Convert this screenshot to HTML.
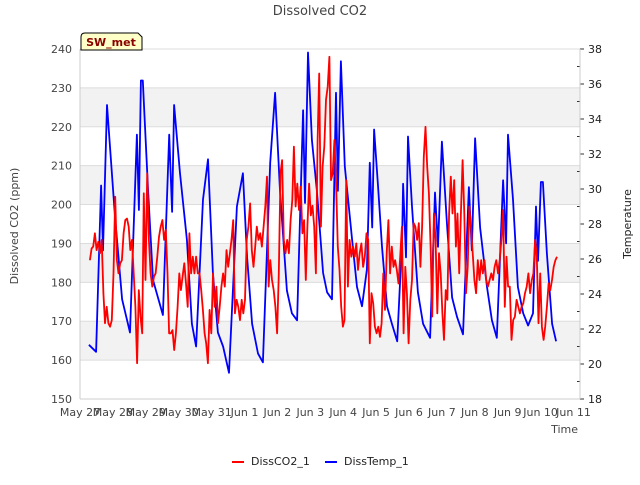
<!DOCTYPE html>
<html><head><meta charset="utf-8"><style>
body{margin:0;background:#fff;font-family:"Liberation Sans",sans-serif;}
svg text{font-family:"DejaVu Sans","Liberation Sans",sans-serif;}
</style></head><body>
<svg id="chart" width="640" height="480" xmlns="http://www.w3.org/2000/svg">
<g id="bands"></g><g id="grid"></g><g id="axes"></g><g id="series"></g>
<text x="320" y="15" text-anchor="middle" font-size="13" fill="#444">Dissolved CO2</text>
<text x="18" y="226" text-anchor="middle" font-size="11" fill="#444" transform="rotate(-90 18 226)">Dissolved CO2 (ppm)</text>
<text x="631" y="224" text-anchor="middle" font-size="11" fill="#222" transform="rotate(-90 631 224)">Temperature</text>
<text x="578" y="433" text-anchor="end" font-size="11" fill="#444">Time</text>
<g>
<path d="M81,50 L81,37 Q81,33 85,33 L138,33 L142,37 L142,50 Z" fill="#ffffc8" stroke="#000" stroke-width="1"/>
<text x="111" y="46" text-anchor="middle" font-size="11" font-weight="bold" fill="#8b0000">SW_met</text>
</g>
<g>
<g><line x1="232" y1="462" x2="244" y2="462" stroke="red" stroke-width="2"/><text x="251" y="465" font-size="11" fill="#222">DissCO2_1</text></g>
<g><line x1="325" y1="462" x2="337" y2="462" stroke="blue" stroke-width="2"/><text x="344" y="465" font-size="11" fill="#222">DissTemp_1</text></g>
</g>
</svg>
<script>
const xTickLabels=["May 27","May 28","May 29","May 30","May 31","Jun 1","Jun 2","Jun 3","Jun 4","Jun 5","Jun 6","Jun 7","Jun 8","Jun 9","Jun 10","Jun 11"];
const yTicks=[150,160,170,180,190,200,210,220,230,240];
const y2Ticks=[18,20,22,24,26,28,30,32,34,36,38];
const co2Start=0.30, co2End=14.50;
const co2Values=[185.7,188.7,189.2,192.6,188.3,190.4,187.5,190.9,177.2,169.5,173.7,169.5,168.6,170.3,182.3,202.0,185.7,182.3,184.9,185.7,192.6,196.0,196.4,194.3,188.3,190.9,182.3,173.7,159.2,178.0,171.2,166.9,202.9,180.6,208.0,190.9,182.3,178.9,181.5,182.3,186.6,191.7,194.3,196.0,190.9,193.5,182.3,166.9,166.9,167.7,162.6,166.9,173.7,182.3,178.0,181.5,184.9,179.7,173.7,192.6,182.3,186.6,182.3,186.6,182.3,182.3,178.0,172.9,166.9,164.3,159.2,172.9,166.9,182.3,173.7,178.9,169.5,173.7,178.9,182.3,178.9,188.3,184.0,187.5,190.9,196.0,172.0,175.5,173.7,170.3,175.5,172.0,175.5,190.9,194.3,200.3,188.3,184.0,189.2,194.3,190.9,192.6,189.2,194.3,199.5,207.2,178.9,185.7,180.6,178.0,173.7,166.9,182.3,208.0,211.4,190.9,187.5,190.9,187.5,196.0,201.2,214.9,199.5,205.4,198.6,204.6,192.6,196.0,180.6,194.3,205.4,197.2,199.7,194.3,182.3,
216.6,233.7,194.3,209.7,214.9,226.9,230.3,238.0,206.3,208.0,216.6,205.4,189.2,183.2,173.7,168.6,170.3,206.3,178.9,190.9,186.6,189.2,186.6,190.0,183.2,187.5,190.0,184.0,186.6,192.6,190.9,164.3,177.2,174.6,168.6,166.9,168.6,166.0,169.5,182.3,172.9,187.5,196.0,182.3,189.2,184.0,185.7,183.2,179.7,186.6,194.3,166.9,184.0,177.2,164.3,175.5,180.6,195.2,194.3,190.9,195.2,184.0,194.3,212.3,220.0,209.7,202.9,189.2,171.2,197.7,190.9,172.0,187.5,182.3,172.0,165.2,178.0,175.5,197.7,207.2,197.7,206.3,189.2,197.7,182.3,197.7,211.4,197.7,177.2,184.0,199.5,194.3,187.5,180.6,177.2,185.7,180.6,185.7,182.3,185.7,180.6,178.9,180.6,182.3,180.6,184.0,185.7,182.3,185.7,190.9,198.6,173.7,186.6,178.9,178.9,165.2,170.3,171.2,175.5,173.7,172.0,173.7,174.6,177.2,178.9,182.3,177.2,180.6,182.3,190.9,186.6,169.5,182.3,168.6,165.2,168.6,173.7,179.7,178.0,180.6,184.0,185.7,186.6];
const tempDays=[0.27,0.49,0.64,0.70,0.82,1.06,1.28,1.52,1.73,1.79,1.85,1.91,2.07,2.22,2.52,2.71,2.80,2.86,3.04,3.25,3.40,3.53,3.74,3.89,4.04,4.19,4.35,4.53,4.77,4.95,5.08,5.23,5.41,5.56,5.78,5.93,6.08,6.29,6.44,6.60,6.78,6.84,6.93,7.05,7.20,7.39,7.51,7.66,7.78,7.84,7.93,8.05,8.27,8.42,8.57,8.72,8.81,8.88,8.94,9.06,9.18,9.33,9.48,9.64,9.79,9.82,9.91,9.97,10.09,10.27,10.43,10.64,10.79,10.88,11.00,11.16,11.31,11.46,11.64,11.82,11.91,12.01,12.16,12.37,12.52,12.67,12.86,12.95,13.01,13.16,13.31,13.47,13.62,13.77,13.86,13.92,14.01,14.07,14.19,14.35,14.47];
const tempValues=[21.1,20.7,30.2,26.5,34.8,28.5,23.7,21.8,33.1,28.8,36.2,36.2,29.9,24.8,22.8,33.1,28.7,34.8,30.9,27.1,22.3,21.0,29.4,31.7,25.2,21.8,21.0,19.5,29.0,30.9,26.1,22.3,20.6,20.1,31.5,35.5,29.9,24.2,22.9,22.5,34.5,29.2,37.8,32.8,29.9,25.2,24.1,23.7,35.5,29.9,37.3,31.3,27.1,24.4,23.3,25.4,31.5,27.8,33.4,30.1,26.7,23.3,22.3,21.3,27.1,30.3,26.1,33.0,29.0,24.1,22.3,21.5,29.8,26.7,32.7,27.8,23.8,22.7,21.7,30.1,26.5,32.9,27.8,24.4,22.5,21.5,30.5,26.9,33.1,29.4,24.4,22.9,22.2,22.9,29.0,25.9,30.4,30.4,26.3,22.3,21.3];

const NS="http://www.w3.org/2000/svg";
const X0=80,PXD=32.9,PL=80,PR=580,PT=49,PB=399;
function xs(d){return X0+d*PXD;}
function ys(v){return PB-(v-150)*(PB-PT)/90;}
function ys2(t){return PB-(t-18)*(PB-PT)/20;}
function mk(tag,attrs,parent){const e=document.createElementNS(NS,tag);for(const k in attrs)e.setAttribute(k,attrs[k]);parent.appendChild(e);return e;}
const bands=document.getElementById('bands'),grid=document.getElementById('grid'),axes=document.getElementById('axes'),series=document.getElementById('series');
for(let i=0;i<yTicks.length-1;i++){
  if(yTicks[i]%20===0){
    const b=mk('rect',{x:PL,y:ys(yTicks[i]+10),width:PR-PL,height:ys(yTicks[i])-ys(yTicks[i]+10),fill:'#f2f2f2'},bands);
    
    
  }
}
yTicks.forEach(v=>{
  const l=mk('line',{x1:PL,x2:PR,y1:ys(v),y2:ys(v),stroke:'#dcdcdc','stroke-width':1},grid);
  
  
  const t=mk('text',{x:PL-8,y:ys(v)+4,'text-anchor':'end','font-size':11,fill:'#444'},axes);
  t.textContent=v;
  
  
});
y2Ticks.forEach(v=>{
  const t=mk('text',{x:PR+8,y:ys2(v)+4,'font-size':11,fill:'#222'},axes);
  t.textContent=v;
  
  
  const tk=mk('line',{x1:PR,x2:PR+4,y1:ys2(v),y2:ys2(v),stroke:'#333'},axes);
  
  
  if(v<38){const m=mk('line',{x1:PR-3,x2:PR,y1:ys2(v+1),y2:ys2(v+1),stroke:'#333'},axes);
  
  }
});
const la=mk('line',{x1:PL,x2:PL,y1:PT,y2:PB,stroke:'#ccc'},axes);


const ra=mk('line',{x1:PR,x2:PR,y1:PT,y2:PB,stroke:'#ccc'},axes);


const ba=mk('line',{x1:PL,x2:PR,y1:PB,y2:PB,stroke:'#ccc'},axes);


xTickLabels.forEach((s,i)=>{
  const t=mk('text',{x:xs(i),y:PB+17,'text-anchor':'middle','font-size':11,fill:'#444'},axes);
  t.textContent=s;
  
  
});
const step=(co2End-co2Start)/(co2Values.length-1);
const co2Pts=co2Values.map((v,i)=>xs(co2Start+i*step).toFixed(1)+','+ys(v).toFixed(1)).join(' ');
const tempPts=tempValues.map((v,i)=>xs(tempDays[i]).toFixed(1)+','+ys2(v).toFixed(1)).join(' ');
const pt=mk('polyline',{points:tempPts,fill:'none',stroke:'blue','stroke-width':1.8,'stroke-linejoin':'round'},series);


const pc=mk('polyline',{points:co2Pts,fill:'none',stroke:'red','stroke-width':1.8,'stroke-linejoin':'round'},series);


</script>
</body></html>
